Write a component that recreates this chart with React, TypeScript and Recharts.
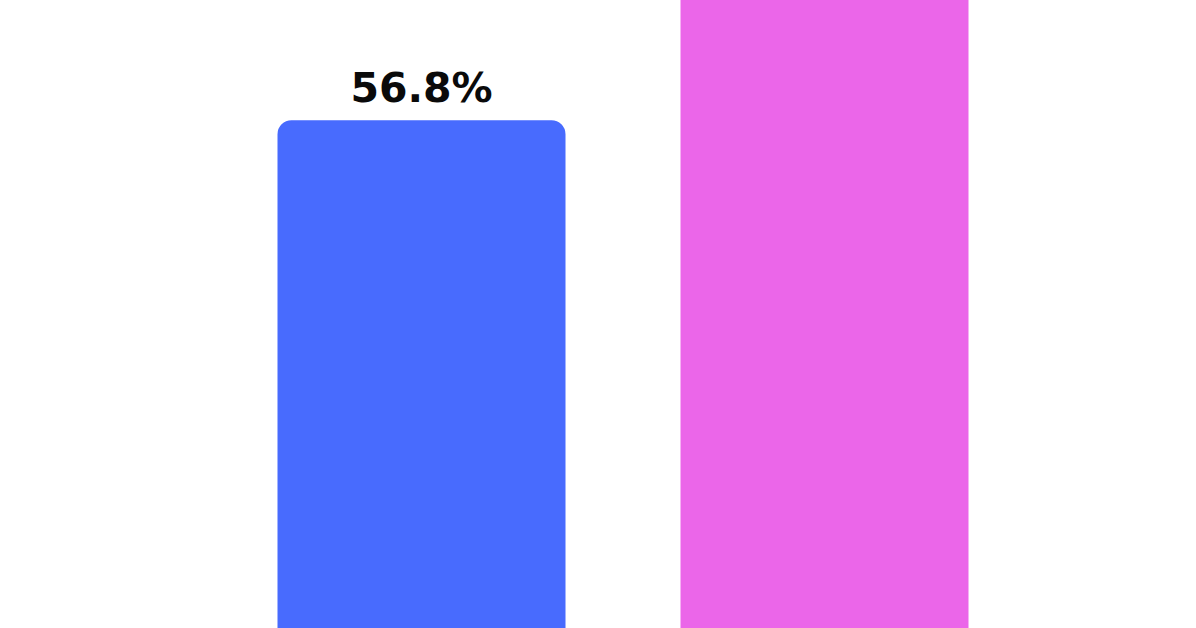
import { BarChart, Bar, XAxis, YAxis, Cell, LabelList } from 'recharts'

// two groups, the right one runs off the top of the crop
const categories = ['A', 'B']
const values = [56.8, 74.0]
// the right bar's label lies outside the crop, so it is left empty
const labels = ['56.8%', '']

const colors = ['#486bfe', '#eb66e9']

const data = categories.map((name, i) => ({ name, value: values[i], label: labels[i] }))

export default function App() {
  return (
    <div style={{ position: 'fixed', left: 0, top: -336, width: 1196, background: '#fff' }}>
      <BarChart
        width={1196}
        height={1056}
        data={data}
        margin={{ top: 0, right: 170.5, bottom: 0, left: 219.5 }}
      >
        <XAxis dataKey="name" hide />
        <YAxis domain={[0, 100]} hide />
        <Bar dataKey="value" barSize={288} radius={[14, 14, 0, 0]} isAnimationActive={false}>
          {data.map((d, i) => (
            <Cell key={d.name} fill={colors[i]} />
          ))}
          <LabelList
            dataKey="label"
            position="top"
            offset={18}
            style={{ fontFamily: 'DejaVu Sans', fontWeight: 700, fontSize: 41, fill: '#0a0a0a' }}
          />
        </Bar>
      </BarChart>
    </div>
  )
}
